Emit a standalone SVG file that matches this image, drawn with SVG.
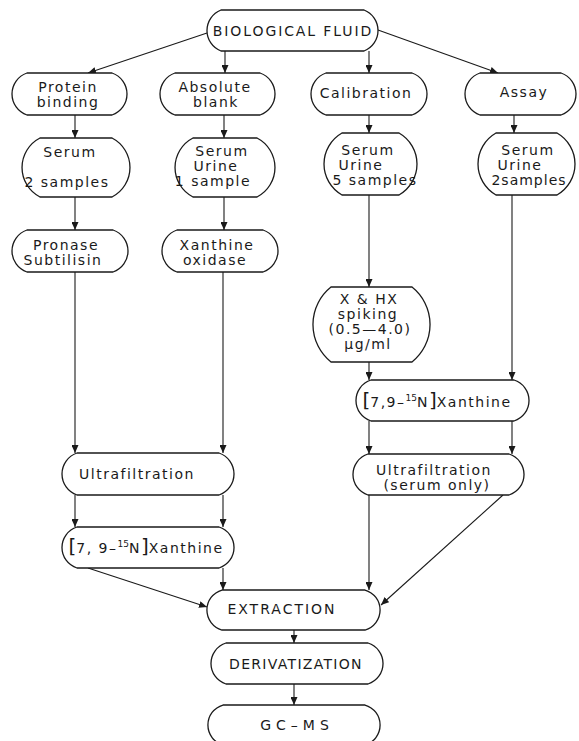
<svg xmlns="http://www.w3.org/2000/svg" width="579" height="741" viewBox="0 0 579 741">
<defs>
<style>
.b{fill:#fff;stroke:#1a1a1a;stroke-width:1.3}
.c{fill:none;stroke:#1a1a1a;stroke-width:1.1;marker-end:url(#ah)}
text{font-family:"DejaVu Sans","Liberation Sans",sans-serif;font-size:14px;fill:#1a1a1a;text-anchor:middle;letter-spacing:1.5px}
.br{font-size:20px;letter-spacing:0}
.sup{font-size:9px;letter-spacing:0}
</style>
<marker id="ah" markerUnits="userSpaceOnUse" markerWidth="8" markerHeight="7" refX="8" refY="3.5" orient="auto">
<path d="M0,0 L8,3.5 L0,7 Z" fill="#1a1a1a"/>
</marker>
</defs>
<rect width="579" height="741" fill="#fff"/>
<g id="connectors">
<path class="c" d="M207,33 L88,73"/>
<path class="c" d="M225,51 L225,73"/>
<path class="c" d="M369,51 L369,73"/>
<path class="c" d="M378,30 L498,73"/>
<path class="c" d="M75,115 L75,138"/>
<path class="c" d="M224,115 L224,138"/>
<path class="c" d="M369,115 L369,133"/>
<path class="c" d="M514,115 L514,133"/>
<path class="c" d="M75,197 L75,230"/>
<path class="c" d="M224,197 L224,230"/>
<path class="c" d="M75,272 L75,453"/>
<path class="c" d="M223,272 L223,453"/>
<path class="c" d="M369,195 L369,287"/>
<path class="c" d="M512,195 L512,380"/>
<path class="c" d="M369,362 L369,380"/>
<path class="c" d="M369,421 L369,454"/>
<path class="c" d="M512,421 L512,454"/>
<path class="c" d="M75,495 L75,527"/>
<path class="c" d="M223,495 L223,527"/>
<path class="c" d="M88,568 L207,607"/>
<path class="c" d="M223,568 L223,590"/>
<path class="c" d="M369,495 L369,590"/>
<path class="c" d="M503,495 L381,605"/>
<path class="c" d="M294,630 L294,643"/>
<path class="c" d="M294,684 L294,705"/>
</g>
<g id="biological-fluid">
<path class="b" d="M221,10 H364 A22,22 0 0 1 364,51 H221 A22,22 0 0 1 221,10 Z"/>
<text x="293" y="36" style="letter-spacing:1.9px">BIOLOGICAL FLUID</text>
</g>
<g id="protein-binding">
<path class="b" d="M27,73 H112 A22.2,22.2 0 0 1 112,115 H27 A22.2,22.2 0 0 1 27,73 Z"/>
<text x="68" y="92">Protein</text>
<text x="68" y="107">binding</text>
</g>
<g id="absolute-blank">
<path class="b" d="M175,73 H260 A22.2,22.2 0 0 1 260,115 H175 A22.2,22.2 0 0 1 175,73 Z"/>
<text x="215" y="92">Absolute</text>
<text x="216" y="107">blank</text>
</g>
<g id="calibration">
<path class="b" d="M326,73 H412 A22.2,22.2 0 0 1 412,115 H326 A22.2,22.2 0 0 1 326,73 Z"/>
<text x="366" y="98">Calibration</text>
</g>
<g id="assay">
<path class="b" d="M480,73 H561 A22.2,22.2 0 0 1 561,115 H480 A22.2,22.2 0 0 1 480,73 Z"/>
<text x="524" y="97">Assay</text>
</g>
<g id="serum-2-samples">
<path class="b" d="M40,138 H112 A33.2,33.2 0 0 1 112,197 H40 A33.2,33.2 0 0 1 40,138 Z"/>
<text x="70" y="157">Serum</text>
<text x="67" y="187">2 samples</text>
</g>
<g id="serum-urine-1-sample">
<path class="b" d="M193,138 H257 A33.2,33.2 0 0 1 257,197 H193 A33.2,33.2 0 0 1 193,138 Z"/>
<text x="222" y="156">Serum</text>
<text x="216" y="171">Urine</text>
<text x="213" y="186">1 sample</text>
</g>
<g id="serum-urine-5-samples">
<path class="b" d="M342,133 H399 A35.7,35.7 0 0 1 399,195 H342 A35.7,35.7 0 0 1 342,133 Z"/>
<text x="368" y="155">Serum</text>
<text x="361" y="170">Urine</text>
<text x="375" y="185">5 samples</text>
</g>
<g id="serum-urine-2-samples">
<path class="b" d="M496,133 H557 A35.7,35.7 0 0 1 557,195 H496 A35.7,35.7 0 0 1 496,133 Z"/>
<text x="528" y="155">Serum</text>
<text x="520" y="170">Urine</text>
<text x="529" y="185" style="letter-spacing:1px">2samples</text>
</g>
<g id="pronase-subtilisin">
<path class="b" d="M27,230 H113 A22.2,22.2 0 0 1 113,272 H27 A22.2,22.2 0 0 1 27,230 Z"/>
<text x="66" y="250">Pronase</text>
<text x="63" y="265">Subtilisin</text>
</g>
<g id="xanthine-oxidase">
<path class="b" d="M177,230 H263 A22.2,22.2 0 0 1 263,272 H177 A22.2,22.2 0 0 1 177,230 Z"/>
<text x="217" y="250">Xanthine</text>
<text x="215" y="265">oxidase</text>
</g>
<g id="spiking">
<path class="b" d="M331,287 H412 A48,48 0 0 1 412,362 H331 A48,48 0 0 1 331,287 Z"/>
<text x="369" y="304">X &amp; HX</text>
<text x="368" y="319">spiking</text>
<text x="370" y="334">(0.5—4.0)</text>
<text x="368" y="349">µg/ml</text>
</g>
<g id="xanthine-15n-right">
<path class="b" d="M371,380 H514 A21.5,21.5 0 0 1 514,421 H371 A21.5,21.5 0 0 1 371,380 Z"/>
<text x="437" y="407"><tspan class="br">[</tspan>7,9–<tspan class="sup" dy="-6">15</tspan><tspan dy="6">N</tspan><tspan class="br">]</tspan>Xanthine</text>
</g>
<g id="ultrafiltration-left">
<path class="b" d="M77,453 H219 A22.2,22.2 0 0 1 219,495 H77 A22.2,22.2 0 0 1 77,453 Z"/>
<text x="137" y="479">Ultrafiltration</text>
</g>
<g id="ultrafiltration-serum-only">
<path class="b" d="M368,454 H509 A21.5,21.5 0 0 1 509,495 H368 A21.5,21.5 0 0 1 368,454 Z"/>
<text x="434" y="475">Ultrafiltration</text>
<text x="437" y="490">(serum only)</text>
</g>
<g id="xanthine-15n-left">
<path class="b" d="M77,527 H219 A21.5,21.5 0 0 1 219,568 H77 A21.5,21.5 0 0 1 77,527 Z"/>
<text x="146" y="553"><tspan class="br">[</tspan>7, 9–<tspan class="sup" dy="-6">15</tspan><tspan dy="6">N</tspan><tspan class="br">]</tspan>Xanthine</text>
</g>
<g id="extraction">
<path class="b" d="M222,590 H365 A20.8,20.8 0 0 1 365,630 H222 A20.8,20.8 0 0 1 222,590 Z"/>
<text x="282" y="614" style="letter-spacing:2px">EXTRACTION</text>
</g>
<g id="derivatization">
<path class="b" d="M226,643 H368 A21.5,21.5 0 0 1 368,684 H226 A21.5,21.5 0 0 1 226,643 Z"/>
<text x="296" y="669" style="letter-spacing:1.3px">DERIVATIZATION</text>
</g>
<g id="gc-ms">
<path class="b" d="M223,705 H365 A20.8,20.8 0 0 1 365,745 H223 A20.8,20.8 0 0 1 223,705 Z"/>
<text x="297" y="730" style="letter-spacing:5px">GC–MS</text>
</g>
</svg>
